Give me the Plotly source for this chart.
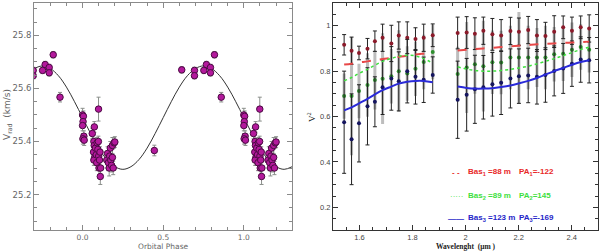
import plotly.graph_objects as go

# ---------------- Left panel: radial velocity vs orbital phase ----------------
rv_phase = [0.615, 0.694, 0.694, 0.752, 0.768, 0.793, 0.793, 0.818, 0.860,
            0.000, 0.005, 0.003, 0.000, 0.008, 0.002, 0.010,
            0.060, 0.073, 0.070, 0.072, 0.068, 0.075, 0.070, 0.080, 0.085, 0.088,
            0.090, 0.095, 0.100, 0.102, 0.098, 0.099, 0.105, 0.110, 0.112, 0.108,
            0.150, 0.155, 0.160, 0.165, 0.168, 0.172, 0.175, 0.180, 0.185, 0.190,
            0.185, 0.195, 0.200, 0.445]
rv_vel = [25.670, 25.668, 25.648, 25.668, 25.690, 25.679, 25.659, 25.727, 25.567,
          25.500, 25.495, 25.475, 25.460, 25.420, 25.410, 25.405,
          25.430, 25.455, 25.400, 25.385, 25.360, 25.340, 25.330, 25.375, 25.350, 25.320,
          25.395, 25.370, 25.345, 25.300, 25.400, 25.522, 25.330, 25.268, 25.300, 25.360,
          25.330, 25.355, 25.320, 25.300, 25.345, 25.375, 25.330, 25.310, 25.340, 25.300,
          25.385, 25.395, 25.398, 25.366]
rv_err = [0.012, 0.012, 0.012, 0.012, 0.012, 0.012, 0.012, 0.012, 0.018,
          0.025, 0.02, 0.02, 0.02, 0.02, 0.02, 0.02,
          0.02, 0.02, 0.025, 0.02, 0.025, 0.03, 0.02, 0.02, 0.025, 0.03,
          0.02, 0.025, 0.02, 0.03, 0.02, 0.045, 0.02, 0.03, 0.025, 0.02,
          0.03, 0.025, 0.03, 0.03, 0.02, 0.025, 0.02, 0.025, 0.03, 0.025,
          0.03, 0.02, 0.02, 0.02]

model_phase = [-0.30, -0.25, -0.20, -0.15, -0.10, -0.05, 0.00, 0.05, 0.10, 0.15, 0.20,
               0.25, 0.30, 0.35, 0.40, 0.45, 0.50, 0.55, 0.60, 0.65, 0.70, 0.75,
               0.80, 0.85, 0.90, 0.95, 1.00, 1.05, 1.10, 1.15, 1.20, 1.25, 1.30]
model_vel = [25.675, 25.685, 25.675, 25.648, 25.605, 25.550, 25.490, 25.430, 25.375,
             25.332, 25.305, 25.295, 25.305, 25.332, 25.375, 25.430, 25.490, 25.550,
             25.605, 25.648, 25.675, 25.685, 25.675, 25.648, 25.605, 25.550, 25.490,
             25.430, 25.375, 25.332, 25.305, 25.295, 25.305]

# ---------------- Right panel: V^2 vs wavelength ----------------
wl_a = [1.542, 1.570, 1.598, 1.630, 1.658, 1.687, 1.720, 1.748, 1.780, 1.811, 1.842, 1.876]
wl_b = [1.970, 2.004, 2.035, 2.067, 2.101, 2.134, 2.169, 2.201, 2.236, 2.269, 2.301,
        2.334, 2.368, 2.401, 2.434, 2.466]

red_a = [0.916, 0.890, 0.880, 0.899, 0.932, 0.947, 0.922, 0.957, 0.947, 0.941, 0.947, 0.958]
red_b = [0.968, 0.970, 0.965, 0.978, 0.962, 0.957, 0.977, 0.974, 0.981, 0.957, 0.955,
         0.974, 0.993, 0.978, 0.993, 0.988]
green_a = [0.690, 0.690, 0.713, 0.739, 0.761, 0.767, 0.777, 0.800, 0.790, 0.810, 0.840, 0.884]
green_b = [0.787, 0.816, 0.830, 0.822, 0.839, 0.838, 0.860, 0.860, 0.860, 0.860, 0.860,
           0.874, 0.877, 0.894, 0.906, 0.894]
blue_a = [0.575, 0.500, 0.570, 0.645, 0.665, 0.729, 0.768, 0.755, 0.800, 0.775, 0.762, 0.783]
blue_b = [0.674, 0.696, 0.720, 0.729, 0.742, 0.749, 0.768, 0.778, 0.781, 0.775, 0.783,
          0.801, 0.812, 0.833, 0.851, 0.848]

red_err_a = [0.045, 0.06, 0.03, 0.045, 0.045, 0.06, 0.08, 0.06, 0.07, 0.05, 0.06, 0.05]
red_err_b = [0.07, 0.07, 0.07, 0.06, 0.07, 0.07, 0.06, 0.06, 0.06, 0.07, 0.06,
             0.07, 0.05, 0.06, 0.05, 0.06]
green_err_a = [0.1, 0.26, 0.12, 0.14, 0.13, 0.2, 0.12, 0.18, 0.12, 0.12, 0.12, 0.12]
green_err_b = [0.12, 0.2, 0.13, 0.2, 0.14, 0.14, 0.14, 0.2, 0.14, 0.13, 0.14,
               0.12, 0.12, 0.12, 0.1, 0.1]
blue_err_a = [0.225, 0.2, 0.17, 0.17, 0.11, 0.12, 0.14, 0.13, 0.14, 0.12, 0.1, 0.08]
blue_err_b = [0.17, 0.16, 0.15, 0.14, 0.14, 0.14, 0.13, 0.12, 0.12, 0.12, 0.12,
              0.11, 0.11, 0.1, 0.1, 0.1]

red_model_a = [0.829, 0.833, 0.838, 0.843, 0.848, 0.853, 0.858, 0.863, 0.868, 0.873, 0.877, 0.881]
red_model_b = [0.891, 0.894, 0.897, 0.900, 0.903, 0.906, 0.909, 0.912, 0.915, 0.918, 0.920,
               0.922, 0.924, 0.926, 0.928, 0.930]
green_model_a = [0.757, 0.772, 0.790, 0.808, 0.826, 0.843, 0.856, 0.865, 0.870, 0.867, 0.855, 0.835]
green_model_b = [0.819, 0.809, 0.803, 0.800, 0.800, 0.803, 0.808, 0.814, 0.822, 0.832, 0.843,
                 0.855, 0.868, 0.882, 0.895, 0.906]
blue_model_a = [0.627, 0.640, 0.658, 0.678, 0.698, 0.716, 0.732, 0.745, 0.753, 0.757, 0.757, 0.751]
blue_model_b = [0.732, 0.726, 0.723, 0.723, 0.725, 0.730, 0.737, 0.746, 0.757, 0.770, 0.785,
                0.800, 0.814, 0.828, 0.840, 0.848]

legend_text = ["Bas<sub>1</sub> =88 m", "Bas<sub>2</sub> =89 m", "Bas<sub>3</sub> =123 m"]
legend_pa = ["PA<sub>1</sub>=-122", "PA<sub>2</sub>=145", "PA<sub>3</sub>=-169"]

fig = go.Figure()

# left panel: replicate data over the plotted phase window
px, py, pe = [], [], []
for shift in (-1, 0, 1):
    for p, v, e in zip(rv_phase, rv_vel, rv_err):
        q = p + shift
        if -0.32 <= q <= 1.32:
            px.append(q); py.append(v); pe.append(e)

fig.add_trace(go.Scatter(
    x=model_phase, y=model_vel, mode="lines", line=dict(color="#333333", width=1, shape="spline"),
    xaxis="x", yaxis="y", hoverinfo="skip"))
fig.add_trace(go.Scatter(
    x=px, y=py, mode="markers", xaxis="x", yaxis="y", cliponaxis=True,
    marker=dict(size=6.5, color="#b3199c", line=dict(color="#4a0a42", width=1)),
    error_y=dict(type="data", array=pe, color="#8a8f8a", thickness=1, width=2)))

# right panel
seg = [(wl_a, red_a, red_err_a, green_a, green_err_a, blue_a, blue_err_a,
        red_model_a, green_model_a, blue_model_a),
       (wl_b, red_b, red_err_b, green_b, green_err_b, blue_b, blue_err_b,
        red_model_b, green_model_b, blue_model_b)]
for wl, r, re_, g, ge, b, be, rm, gm, bm in seg:
    fig.add_trace(go.Scatter(x=wl, y=g, mode="markers", xaxis="x2", yaxis="y2",
                             marker=dict(size=4, color="#2f8f2f"),
                             error_y=dict(type="data", array=ge, color="#bdbdbd", thickness=3, width=0)))
    fig.add_trace(go.Scatter(x=wl, y=r, mode="markers", xaxis="x2", yaxis="y2",
                             marker=dict(size=4, color="#8b1a2a"),
                             error_y=dict(type="data", array=re_, color="#222222", thickness=1, width=2)))
    fig.add_trace(go.Scatter(x=wl, y=b, mode="markers", xaxis="x2", yaxis="y2",
                             marker=dict(size=4, color="#15155f"),
                             error_y=dict(type="data", array=be, color="#222222", thickness=1, width=2)))
    fig.add_trace(go.Scatter(x=wl, y=rm, mode="lines", xaxis="x2", yaxis="y2",
                             line=dict(color="#e84848", width=2, dash="dash", shape="spline")))
    fig.add_trace(go.Scatter(x=wl, y=gm, mode="lines", xaxis="x2", yaxis="y2",
                             line=dict(color="#3fe03f", width=1.5, dash="dot", shape="spline")))
    fig.add_trace(go.Scatter(x=wl, y=bm, mode="lines", xaxis="x2", yaxis="y2",
                             line=dict(color="#2a2ad8", width=2, shape="spline")))

ax_common = dict(showline=True, mirror="allticks", ticks="inside", ticklen=5,
                 showgrid=False, zeroline=False)

fig.update_layout(
    width=600, height=252, margin=dict(l=0, r=0, t=0, b=0),
    paper_bgcolor="white", plot_bgcolor="white", showlegend=False,
    xaxis=dict(domain=[0.057, 0.487], range=[-0.3, 1.3], tickvals=[0, 0.5, 1],
               ticktext=["0.0", "0.5", "1.0"], linecolor="#8a8a8a", tickcolor="#8a8a8a",
               ticklabelstandoff=0,
               minor=dict(ticks="inside", ticklen=3, dtick=0.1, tick0=0, tickcolor="#8a8a8a"),
               tickfont=dict(family="DejaVu Sans", size=7.5, color="#666666"), **ax_common),
    yaxis=dict(domain=[0.087, 0.988], range=[25.066, 25.922], tick0=25.2, dtick=0.2,
               tickformat=".1f", linecolor="#8a8a8a", tickcolor="#8a8a8a",
               minor=dict(ticks="inside", ticklen=3, dtick=0.05, tick0=25.2, tickcolor="#8a8a8a"),
               tickfont=dict(family="DejaVu Sans", size=8.5, color="#666666"), **ax_common),
    xaxis2=dict(domain=[0.555, 0.997], range=[1.5, 2.5], anchor="y2", tick0=1.6, dtick=0.2,
                linecolor="#333333", tickcolor="#333333", ticklabelstandoff=0,
                minor=dict(ticks="inside", ticklen=3, dtick=0.05, tick0=1.5, tickcolor="#333333"),
                tickfont=dict(family="Liberation Sans", size=7.5, color="#444444"), **ax_common),
    yaxis2=dict(domain=[0.087, 0.988], range=[0.1, 1.1], anchor="x2", tick0=0.2, dtick=0.2,
                linecolor="#333333", tickcolor="#333333",
                minor=dict(ticks="inside", ticklen=3, dtick=0.05, tick0=0.1, tickcolor="#333333"),
                tickfont=dict(family="Liberation Sans", size=7.5, color="#444444"), **ax_common),
)

ann = []
ann.append(dict(text="V<sub>rad</sub>  (km/s)", x=8, y=115, textangle=-90,
                font=dict(family="DejaVu Sans", size=9, color="#666666")))
ann.append(dict(text="Orbital Phase", x=163, y=252, yanchor="bottom",
                font=dict(family="DejaVu Sans", size=7.5, color="#666666")))
ann.append(dict(text="V<sup>2</sup>", x=311, y=117, textangle=-90,
                font=dict(family="Liberation Serif", size=9, color="#222222")))
ann.append(dict(text="<b>Wavelenght  (μm )</b>", x=466, y=252, yanchor="bottom",
                font=dict(family="Liberation Serif", size=7.5, color="#222222")))
cols = ["#e82828", "#3ee03e", "#2424c8"]
syms = ["<b>- -</b>", "·····", "<b>——</b>"]
ys = [172, 196, 218]
for i in range(3):
    ann.append(dict(text=syms[i], x=456, y=ys[i], font=dict(family="Liberation Sans", size=8, color=cols[i])))
    ann.append(dict(text="<b>" + legend_text[i] + "</b>", x=467, y=ys[i], xanchor="left",
                    font=dict(family="Liberation Sans", size=8, color=cols[i])))
    ann.append(dict(text="<b>" + legend_pa[i] + "</b>", x=518, y=ys[i], xanchor="left",
                    font=dict(family="Liberation Sans", size=8, color=cols[i])))
for a in ann:
    a.setdefault("xanchor", "center")
    a.setdefault("yanchor", "middle")
    a.update(xref="paper", yref="paper", showarrow=False, borderpad=0)
    a["x"] = a["x"] / 600.0
    a["y"] = 1 - a["y"] / 252.0
fig.update_layout(annotations=ann)

fig.write_html("out.html", config={"displayModeBar": False},
               post_script="document.body.style.margin='0px';document.body.style.overflow='hidden';")
